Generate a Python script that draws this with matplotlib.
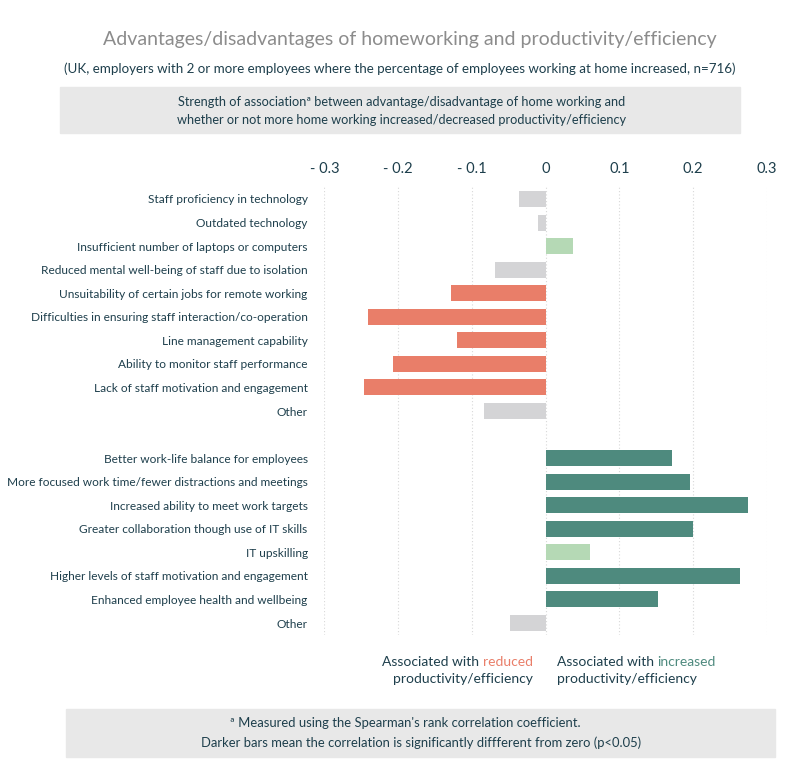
import matplotlib
matplotlib.use('Agg')
from matplotlib import pyplot as plt
from matplotlib.patches import Rectangle

plt.rcParams['font.family'] = ['Lato', 'DejaVu Sans']

# disadvantages (top block) then advantages (bottom block)
disadv_labels = ["Staff proficiency in technology", "Outdated technology",
                 "Insufficient number of laptops or computers",
                 "Reduced mental well-being of staff due to isolation",
                 "Unsuitability of certain jobs for remote working",
                 "Difficulties in ensuring staff interaction/co-operation",
                 "Line management capability", "Ability to monitor staff performance",
                 "Lack of staff motivation and engagement", "Other"]
disadv_values = [-0.036, -0.011, 0.037, -0.068, -0.128, -0.241, -0.120, -0.207, -0.246, -0.083]
disadv_signif = [False, False, False, False, True, True, True, True, True, False]

adv_labels = ["Better work-life balance for employees",
              "More focused work time/fewer distractions and meetings",
              "Increased ability to meet work targets",
              "Greater collaboration though use of IT skills", "IT upskilling",
              "Higher levels of staff motivation and engagement",
              "Enhanced employee health and wellbeing", "Other"]
adv_values = [0.172, 0.196, 0.275, 0.200, 0.060, 0.263, 0.153, -0.049]
adv_signif = [True, True, True, True, False, True, True, False]

ticks = [-0.3, -0.2, -0.1, 0, 0.1, 0.2, 0.3]
tick_labels = ["- 0.3", "- 0.2", "- 0.1", "0", "0.1", "0.2", "0.3"]

RED = '#E97E69'
DKGREEN = '#4E8A7E'
LTGREEN = '#B5D9B5'
GREY = '#D4D4D6'
TXT = '#1E3F4C'


def bar_color(v, sig):
    if v < 0:
        return RED if sig else GREY
    return DKGREEN if sig else LTGREEN


labels = disadv_labels + [""] + adv_labels
values = disadv_values + [None] + adv_values
signif = disadv_signif + [None] + adv_signif

fig = plt.figure(figsize=(8, 7.79), dpi=100)
ax = fig.add_axes([0.4055, 0.1851, 0.5531, 0.5746])

for i, (v, s) in enumerate(zip(values, signif)):
    if v is None:
        continue
    ax.barh(i, v, height=0.68, color=bar_color(v, s), edgecolor='none', zorder=2)

ax.set_ylim(len(labels) - 0.5, -0.5)
ax.set_xlim(-0.3, 0.3)
ax.set_yticks(range(len(labels)))
ax.set_yticklabels(labels, fontsize=8.6, color=TXT)
ax.xaxis.tick_top()
ax.set_xticks(ticks)
ax.set_xticklabels(tick_labels, fontsize=10.5, color=TXT)
ax.tick_params(length=0, pad=8)
ax.tick_params(axis='y', pad=12)
for t in ticks:
    ax.axvline(t, color='#D8D8D8', lw=0.8, ls=(0, (1, 2)), zorder=1)
for sp in ax.spines.values():
    sp.set_visible(False)

# title block
fig.text(0.512, 1 - 40 / 779, "Advantages/disadvantages of homeworking and productivity/efficiency",
         ha='center', va='center', fontsize=14, color='#8C8C8C')
fig.text(0.5, 1 - 69 / 779,
         "(UK, employers with 2 or more employees where the percentage of employees working at home increased, n=716)",
         ha='center', va='center', fontsize=9.6, color=TXT)
fig.patches.append(Rectangle((60 / 800, 1 - 133 / 779), 680 / 800, 46 / 779,
                             transform=fig.transFigure, color='#E8E8E8', zorder=0))
fig.text(0.502, 1 - 102 / 779,
         "Strength of association\u00aa between advantage/disadvantage of home working and",
         ha='center', va='center', fontsize=9.2, color=TXT)
fig.text(0.502, 1 - 120 / 779,
         "whether or not more home working increased/decreased productivity/efficiency",
         ha='center', va='center', fontsize=9.2, color=TXT)

# bottom direction labels
r1 = fig.text(533 / 800, 1 - 662 / 779, "reduced", ha='right', va='center', fontsize=10, color=RED)
ax.annotate("Associated with ", xy=(0, 0.5), xycoords=r1, ha='right', va='center',
            fontsize=10, color=TXT, annotation_clip=False)
fig.text(533 / 800, 1 - 679 / 779, "productivity/efficiency", ha='right', va='center',
         fontsize=10, color=TXT)
g1 = fig.text(557 / 800, 1 - 662 / 779, "Associated with ", ha='left', va='center',
              fontsize=10, color=TXT)
ax.annotate("increased", xy=(1, 0.5), xycoords=g1, ha='left', va='center',
            fontsize=10, color=DKGREEN, annotation_clip=False)
fig.text(557 / 800, 1 - 679 / 779, "productivity/efficiency", ha='left', va='center',
         fontsize=10, color=TXT)

# footnote box
fig.patches.append(Rectangle((66 / 800, 1 - 757 / 779), 709 / 800, 48 / 779,
                             transform=fig.transFigure, color='#E8E8E8', zorder=0))
fig.text(405 / 800, 1 - 723 / 779, "\u00aa Measured using the Spearman's rank correlation coefficient.",
         ha='center', va='center', fontsize=9.4, color=TXT)
fig.text(421 / 800, 1 - 743 / 779,
         "Darker bars mean the correlation is significantly diffferent from zero (p<0.05)",
         ha='center', va='center', fontsize=9.4, color=TXT)

fig.savefig('out.png', dpi=100, facecolor='white')
